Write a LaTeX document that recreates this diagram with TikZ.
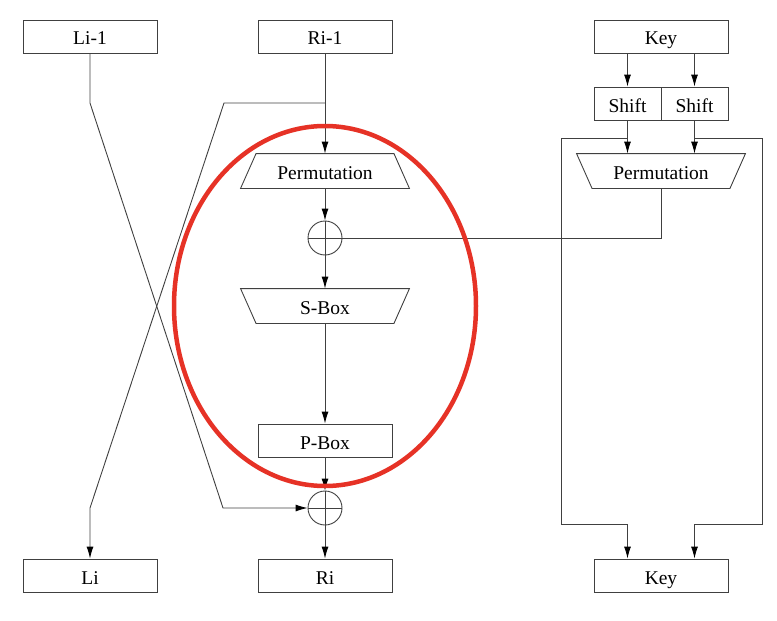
\documentclass[tikz,border=0pt]{standalone}
\usepackage{fontspec}
\setmainfont{Liberation Serif}
\usetikzlibrary{arrows.meta,calc}
\definecolor{markred}{RGB}{230,50,38}
\begin{document}
\begin{tikzpicture}[x=1pt,y=-1pt,>={Latex[length=12pt,width=7pt,color=black]}]
  \tikzstyle{block}=[draw=black!75,line width=0.9pt,minimum width=134pt,minimum height=33pt,inner sep=0pt,text height=17pt,text depth=0pt,font=\fontsize{19.5}{23}\selectfont]
  \tikzstyle{halfblock}=[block,minimum width=67pt]
  \tikzstyle{perm}=[block,draw=none,minimum width=137pt,minimum height=34pt]
  \tikzstyle{xor}=[circle,draw=black!75,line width=0.9pt,minimum size=34pt,inner sep=0pt]
  \tikzstyle{wire}=[draw=black!75,line width=0.9pt]
  \useasboundingbox (0,0) rectangle (777,621);
  % inputs
  \node[block] (lin) at (90,36.5) {Li-1};
  \node[block] (rin) at (325,36.5) {Ri-1};
  \node[block] (keyin) at (661,36.5) {Key};
  % round function
  \node[perm] (perml) at (325,171) {Permutation};
  \node[xor] (xort) at (325,238) {};
  \node[perm] (sbox) at (325,306) {S-Box};
  \node[block] (pbox) at (325,440.5) {P-Box};
  \node[xor] (xorb) at (325,508) {};
  \foreach \x in {xort,xorb} {
    \draw[wire] (\x.north) -- (\x.south);
    \draw[wire] (\x.west) -- (\x.east);
  }
  % key schedule
  \node[halfblock] (shl) at (627.5,103.5) {Shift};
  \node[halfblock] (shr) at (694.5,103.5) {Shift};
  \node[perm] (permr) at (661,171) {Permutation};
  % trapezium outlines, wide side down or up
  \draw[wire] (perml.north west) -- (perml.north east) -- ($(perml.south east)+(15.5,0)$)
    -- ($(perml.south west)+(-15.5,0)$) -- cycle;
  \foreach \x in {sbox,permr}
    \draw[wire] (\x.south west) -- (\x.south east) -- ($(\x.north east)+(15.5,0)$)
      -- ($(\x.north west)+(-15.5,0)$) -- cycle;
  % outputs
  \node[block] (lout) at (90,575.5) {Li};
  \node[block] (rout) at (325,575.5) {Ri};
  \node[block] (keyout) at (661,575.5) {Key};

  \coordinate (lbend) at (90,103);
  \coordinate (lcross) at (223,508);
  \coordinate (rsplit) at (325,103);
  \coordinate (rbend) at (224,103);
  \coordinate (rcross) at (90,508);
  \coordinate (kltop) at (561,138);
  \coordinate (klbot) at (561,524);
  \coordinate (krtop) at (762,138);
  \coordinate (krbot) at (762,524);

  \draw[wire,->] (lin.south) -- (lbend) -- (lcross) -- (xorb.west);
  \draw[wire,->] (rin.south) -- (perml.north);
  \draw[wire,->] (rsplit) -- (rbend) -- (rcross) -- (lout.north);
  \draw[wire,->] (perml.south) -- (xort.north);
  \draw[wire,->] (xort.south) -- (sbox.north);
  \draw[wire,->] (sbox.south) -- (pbox.north);
  \draw[wire,->] (pbox.south) -- (xorb.north);
  \draw[wire,->] (xorb.south) -- (rout.north);

  \draw[wire,->] (shl |- keyin.south) -- (shl.north);
  \draw[wire,->] (shr |- keyin.south) -- (shr.north);
  \draw[wire,->] (shl.south) -- (shl |- permr.north);
  \draw[wire,->] (shr.south) -- (shr |- permr.north);
  \draw[wire] (permr.south) |- (xort.east);
  \draw[wire,->] (shl |- kltop) -- (kltop) -- (klbot) -- (shl |- klbot) -- (shl |- keyout.north);
  \draw[wire,->] (shr |- krtop) -- (krtop) -- (krbot) -- (shr |- krbot) -- (shr |- keyout.north);

  \draw[markred,line width=4.5pt] (325,306) ellipse [x radius=151, y radius=180];
\end{tikzpicture}
\end{document}
